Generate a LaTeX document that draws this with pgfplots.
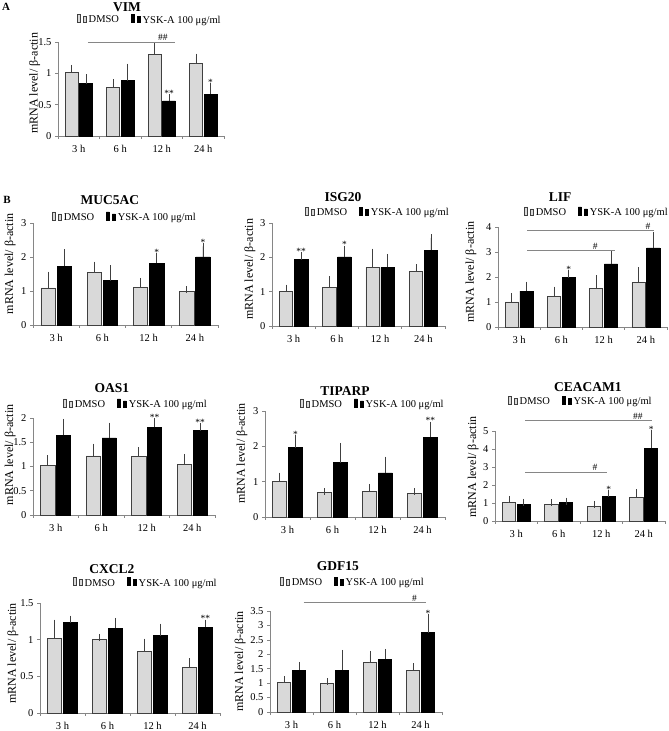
\documentclass[border=0pt]{standalone}
\usepackage{fontspec}
\setmainfont{Liberation Serif}
\usepackage{pgfplots}
\pgfplotsset{compat=1.18}
\definecolor{axisgrey}{HTML}{868686}
\definecolor{dmsofill}{HTML}{D9D9D9}
\definecolor{dmsodraw}{HTML}{404040}
\definecolor{errgrey}{HTML}{404040}
\newcommand{\sigfont}{\fontsize{9.5}{10}\selectfont}
\tikzset{ptitle/.style={font=\bfseries\fontsize{13.5}{15}\selectfont, anchor=center, inner sep=0pt}}
\pgfplotsset{
 panel/.style={
  scale only axis, anchor=south west,
  axis lines*=left,
  axis line style={draw=axisgrey, line width=0.7pt},
  xmin=-0.5, xmax=3.5, ymin=0,
  xtick={0,1,2,3}, xticklabels={3 h,6 h,12 h,24 h},
  major x tick style={draw=none},
  minor xtick={-0.5,0.5,1.5,2.5,3.5},
  minor tick length=3pt,
  minor x tick style={draw=axisgrey, line width=0.7pt},
  major tick length=3pt,
  tick align=outside,
  ytick style={draw=axisgrey, line width=0.7pt},
  tick label style={font=\fontsize{10.5}{12}\selectfont},
  xticklabel style={yshift=-2.5pt},
  /pgf/number format/assume math mode=true,
  /pgf/number format/fixed,
  ylabel={mRNA level/ β-actin},
  ylabel style={font=\fontsize{12}{13}\selectfont, anchor=center},
  clip=false,
  legend columns=2,
  legend style={draw=none, fill=none, font=\fontsize{10.5}{11}\selectfont, anchor=west, inner sep=0pt,
    /tikz/every even column/.append style={column sep=10pt}},
  legend image code/.code={\draw[#1,line width=0.6pt] (0pt,-3.5pt) rectangle (7pt,3.5pt);},
  ybar, bar width=0.31,
  error bars/y dir=plus, error bars/y explicit,
  error bars/error bar style={line width=0.6pt, draw=errgrey},
  error bars/error mark options={mark size=3.5pt, line width=0.6pt, draw=errgrey},
 },
 dmso/.style={fill=dmsofill, draw=dmsodraw, line width=0.6pt, bar shift=-0.175},
 ysk/.style={fill=black, draw=black, line width=0.6pt, bar shift=0.175},
}
\begin{document}
\begin{tikzpicture}
\useasboundingbox (0pt,0pt) rectangle (669pt,731pt);
\node[font=\bfseries\fontsize{11}{12}\selectfont] at (6pt,724pt) {A};
\node[font=\bfseries\fontsize{11}{12}\selectfont] at (7pt,531pt) {B};

% ---- VIM
\begin{axis}[panel, at={(58pt,595pt)}, width=166pt, height=94pt, ymax=1.5, ytick={0,0.5,1,1.5},
  ylabel style={at={(axis description cs:-0.14,0.56)}},
  legend style={at={(0.114,1.232)}}]
\addplot[dmso] coordinates {(0,1.01)+-(0,0.07) (1,0.78)+-(0,0.07) (2,1.30)+-(0,0.13) (3,1.155)+-(0,0.105)};
\addplot[ysk] coordinates {(0,0.837)+-(0,0.093) (1,0.885)+-(0,0.215) (2,0.56)+-(0,0.05) (3,0.67)+-(0,0.12)};
\legend{DMSO, YSK-A 100 μg/ml}
\node[ptitle] at (axis description cs:0.416,1.372) {VIM};
\draw[axisgrey, line width=0.7pt] (axis cs:0.22,1.5) -- (axis cs:2.32,1.5);
\node[anchor=south, font=\sigfont, inner sep=1pt] at (axis cs:2.03,1.5) {\#\#};
\node[anchor=south, font=\sigfont, inner sep=1pt] at (axis cs:2.175,0.61) {**};
\node[anchor=south, font=\sigfont, inner sep=1pt] at (axis cs:3.175,0.79) {*};
\end{axis}

% ---- MUC5AC
\begin{axis}[panel, at={(33pt,406pt)}, width=185pt, height=102pt, ymax=3, ytick={0,1,2,3},
  ylabel style={at={(axis description cs:-0.124,0.6)}},
  legend style={at={(0.103,1.049)}}]
\addplot[dmso] coordinates {(0,1.09)+-(0,0.38) (1,1.55)+-(0,0.21) (2,1.11)+-(0,0.17) (3,0.98)+-(0,0.06)};
\addplot[ysk] coordinates {(0,1.73)+-(0,0.39) (1,1.30)+-(0,0.35) (2,1.81)+-(0,0.21) (3,2.0)+-(0,0.31)};
\legend{DMSO, YSK-A 100 μg/ml}
\node[ptitle] at (axis description cs:0.416,1.225) {MUC5AC};
\node[anchor=south, font=\sigfont, inner sep=1pt] at (axis cs:2.175,2.02) {*};
\node[anchor=south, font=\sigfont, inner sep=1pt] at (axis cs:3.175,2.31) {*};
\end{axis}

% ---- ISG20
\begin{axis}[panel, at={(272pt,405pt)}, width=173pt, height=103pt, ymax=3, ytick={0,1,2,3},
  ylabel style={at={(axis description cs:-0.127,0.55)}},
  legend style={at={(0.191,1.097)}}]
\addplot[dmso] coordinates {(0,1.0)+-(0,0.10) (1,1.13)+-(0,0.22) (2,1.71)+-(0,0.44) (3,1.59)+-(0,0.10)};
\addplot[ysk] coordinates {(0,1.93)+-(0,0.13) (1,2.01)+-(0,0.23) (2,1.71)+-(0,0.29) (3,2.2)+-(0,0.37)};
\legend{DMSO, YSK-A 100 μg/ml}
\node[ptitle] at (axis description cs:0.41,1.252) {ISG20};
\node[anchor=south, font=\sigfont, inner sep=1pt] at (axis cs:0.175,2.06) {**};
\node[anchor=south, font=\sigfont, inner sep=1pt] at (axis cs:1.175,2.24) {*};
\end{axis}

% ---- LIF
\begin{axis}[panel, at={(498pt,404pt)}, width=169pt, height=100pt, ymax=4, ytick={0,1,2,3,4},
  ylabel style={at={(axis description cs:-0.16,0.55)}},
  legend style={at={(0.154,1.14)}}]
\addplot[dmso] coordinates {(0,1.0)+-(0,0.2) (1,1.23)+-(0,0.24) (2,1.53)+-(0,0.40) (3,1.77)+-(0,0.47)};
\addplot[ysk] coordinates {(0,1.43)+-(0,0.24) (1,1.97)+-(0,0.16) (2,2.52)+-(0,0.40) (3,3.16)+-(0,0.48)};
\legend{DMSO, YSK-A 100 μg/ml}
\node[ptitle] at (axis description cs:0.367,1.30) {LIF};
\draw[axisgrey, line width=0.7pt] (axis cs:0.19,3.87) -- (axis cs:3.19,3.87);
\node[anchor=south, font=\sigfont, inner sep=1pt] at (axis cs:3.05,3.87) {\#};
\draw[axisgrey, line width=0.7pt] (axis cs:0.19,3.07) -- (axis cs:2.27,3.07);
\node[anchor=south, font=\sigfont, inner sep=1pt] at (axis cs:1.8,3.07) {\#};
\node[anchor=south, font=\sigfont, inner sep=1pt] at (axis cs:1.175,2.13) {*};
\end{axis}

% ---- OAS1
\begin{axis}[panel, at={(33pt,216pt)}, width=182pt, height=97pt, ymax=2, ytick={0,0.5,1,1.5,2},
  ylabel style={at={(axis description cs:-0.125,0.62)}},
  legend style={at={(0.165,1.134)}}]
\addplot[dmso] coordinates {(0,1.02)+-(0,0.14) (1,1.22)+-(0,0.18) (2,1.21)+-(0,0.11) (3,1.05)+-(0,0.14)};
\addplot[ysk] coordinates {(0,1.64)+-(0,0.27) (1,1.59)+-(0,0.24) (2,1.81)+-(0,0.11) (3,1.74)+-(0,0.09)};
\legend{DMSO, YSK-A 100 μg/ml}
\node[ptitle] at (axis description cs:0.434,1.309) {OAS1};
\node[anchor=south, font=\sigfont, inner sep=1pt] at (axis cs:2.175,1.92) {**};
\node[anchor=south, font=\sigfont, inner sep=1pt] at (axis cs:3.175,1.83) {**};
\end{axis}

% ---- TIPARP
\begin{axis}[panel, at={(265pt,214pt)}, width=180pt, height=106pt, ymax=3, ytick={0,1,2,3},
  ylabel style={at={(axis description cs:-0.128,0.6)}},
  legend style={at={(0.194,1.057)}}]
\addplot[dmso] coordinates {(0,1.0)+-(0,0.16) (1,0.69)+-(0,0.03) (2,0.73)+-(0,0.11) (3,0.67)+-(0,0.05)};
\addplot[ysk] coordinates {(0,1.96)+-(0,0.27) (1,1.54)+-(0,0.46) (2,1.25)+-(0,0.36) (3,2.26)+-(0,0.34)};
\legend{DMSO, YSK-A 100 μg/ml}
\node[ptitle] at (axis description cs:0.444,1.185) {TIPARP};
\node[anchor=south, font=\sigfont, inner sep=1pt] at (axis cs:0.175,2.23) {*};
\node[anchor=south, font=\sigfont, inner sep=1pt] at (axis cs:3.175,2.6) {**};
\end{axis}

% ---- CEACAM1
\begin{axis}[panel, at={(495pt,210pt)}, width=170pt, height=90pt, ymax=5, ytick={0,1,2,3,4,5},
  ylabel style={at={(axis description cs:-0.129,0.6)}},
  legend style={at={(0.076,1.322)}}]
\addplot[dmso] coordinates {(0,1.02)+-(0,0.18) (1,0.93)+-(0,0.07) (2,0.83)+-(0,0.10) (3,1.3)+-(0,0.27)};
\addplot[ysk] coordinates {(0,0.93)+-(0,0.11) (1,1.04)+-(0,0.07) (2,1.35)+-(0,0.19) (3,4.04)+-(0,0.83)};
\legend{DMSO, YSK-A 100 μg/ml}
\node[ptitle] at (axis description cs:0.547,1.49) {CEACAM1};
\draw[axisgrey, line width=0.7pt] (axis cs:0.21,5.57) -- (axis cs:3.19,5.57);
\node[anchor=south, font=\sigfont, inner sep=1pt] at (axis cs:2.86,5.57) {\#\#};
\draw[axisgrey, line width=0.7pt] (axis cs:0.21,2.72) -- (axis cs:2.14,2.72);
\node[anchor=south, font=\sigfont, inner sep=1pt] at (axis cs:1.85,2.72) {\#};
\node[anchor=south, font=\sigfont, inner sep=1pt] at (axis cs:2.175,1.54) {*};
\node[anchor=south, font=\sigfont, inner sep=1pt] at (axis cs:3.175,4.87) {*};
\end{axis}

% ---- CXCL2
\begin{axis}[panel, at={(40pt,18pt)}, width=180pt, height=110pt, ymax=1.5, ytick={0,0.5,1,1.5},
  ylabel style={at={(axis description cs:-0.15,0.54)}},
  legend style={at={(0.183,1.175)}}]
\addplot[dmso] coordinates {(0,1.02)+-(0,0.205) (1,1.0)+-(0,0.03) (2,0.84)+-(0,0.125) (3,0.62)+-(0,0.08)};
\addplot[ysk] coordinates {(0,1.235)+-(0,0.045) (1,1.157)+-(0,0.093) (2,1.056)+-(0,0.114) (3,1.166)+-(0,0.059)};
\legend{DMSO, YSK-A 100 μg/ml}
\node[ptitle] at (axis description cs:0.4,1.305) {CXCL2};
\node[anchor=south, font=\sigfont, inner sep=1pt] at (axis cs:3.175,1.225) {**};
\end{axis}

% ---- GDF15
\begin{axis}[panel, at={(270pt,19pt)}, width=172pt, height=101pt, ymax=3.5, ytick={0,0.5,1,1.5,2,2.5,3,3.5},
  ylabel style={at={(axis description cs:-0.174,0.5)}},
  legend style={at={(0.058,1.277)}}]
\addplot[dmso] coordinates {(0,1.02)+-(0,0.10) (1,0.985)+-(0,0.065) (2,1.715)+-(0,0.285) (3,1.45)+-(0,0.11)};
\addplot[ysk] coordinates {(0,1.45)+-(0,0.17) (1,1.45)+-(0,0.58) (2,1.83)+-(0,0.24) (3,2.75)+-(0,0.53)};
\legend{DMSO, YSK-A 100 μg/ml}
\node[ptitle] at (axis description cs:0.395,1.445) {GDF15};
\draw[axisgrey, line width=0.7pt] (axis cs:0.28,3.79) -- (axis cs:3.12,3.79);
\node[anchor=south, font=\sigfont, inner sep=1pt] at (axis cs:2.86,3.79) {\#};
\node[anchor=south, font=\sigfont, inner sep=1pt] at (axis cs:3.175,3.28) {*};
\end{axis}
\end{tikzpicture}
\end{document}
